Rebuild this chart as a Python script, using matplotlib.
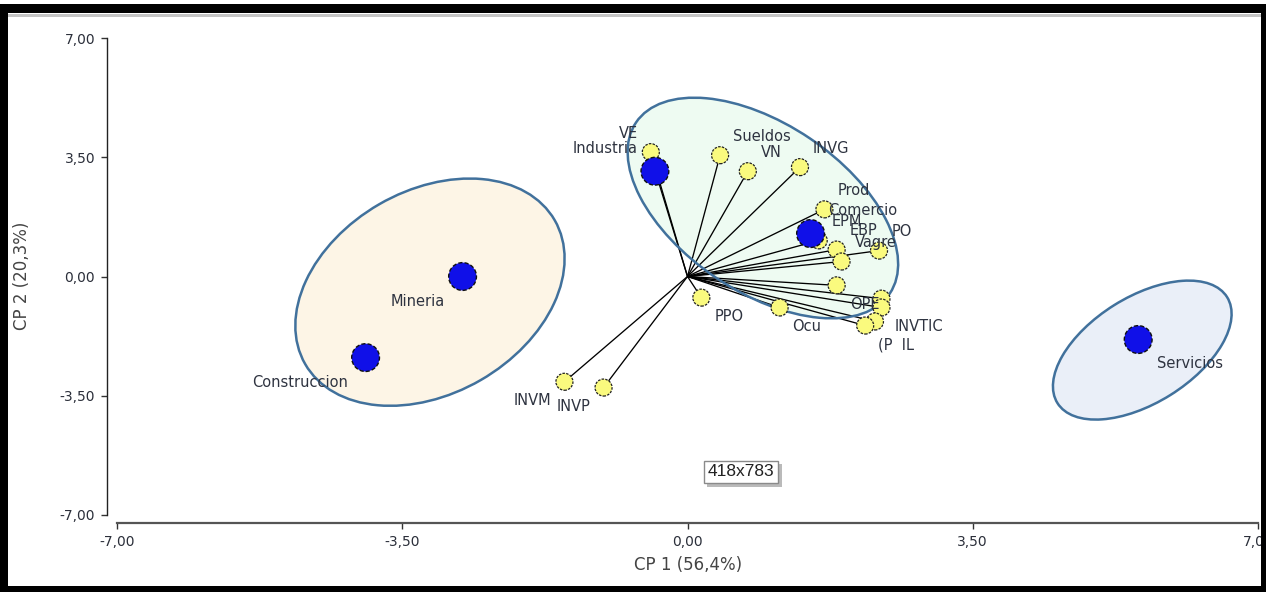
import matplotlib
matplotlib.use("Agg")
import matplotlib.pyplot as plt
from matplotlib.patches import Ellipse, Rectangle
from matplotlib.transforms import ScaledTranslation
import matplotlib.patheffects as pe

plt.rcParams["font.family"] = ["DejaVu Sans"]

# ---- biplot data (CP 1 / CP 2 scores) ----
var_names = ["VE", "", "Sueldos", "VN", "INVG", "Prod", "EPM", "EBP", "PO", "Vagre",
             "OPE", "", "INVTIC", "", "(P  IL", "PPO", "Ocu", "INVM", "INVP"]
var_x = [-0.45, -0.38, 0.40, 0.74, 1.38, 1.68, 1.61, 1.83, 2.35, 1.89,
         1.83, 2.38, 2.38, 2.30, 2.18, 0.17, 1.13, -1.51, -1.03]
var_y = [3.65, 2.97, 3.56, 3.09, 3.21, 1.97, 1.06, 0.79, 0.76, 0.44,
         -0.26, -0.65, -0.91, -1.32, -1.44, -0.62, -0.91, -3.09, -3.26]
var_side = ["ul", "ur", "ur", "ur", "ur", "ur", "ur", "ur", "ur", "ur",
            "lr", "lr", "lr", "lr", "lr", "lr", "lr", "ll", "ll"]

sector_names = ["Industria", "Comercio", "Mineria", "Construccion", "Servicios"]
sector_x = [-0.40, 1.51, -2.76, -3.95, 5.53]
sector_y = [3.09, 1.26, 0.00, -2.38, -1.85]
sector_side = ["ul", "ur", "ll", "ll", "lr"]

# group ellipses: centre (data), full width / height (inches), angle, fill
ell_cx = [0.925, -3.16, 5.58]
ell_cy = [2.01, -0.46, -2.16]
ell_w = [3.06, 2.88, 2.00]
ell_h = [1.68, 2.03, 1.06]
ell_ang = [-34, 30, 32]
ell_fill = ["#EEFBF2", "#FDF5E6", "#EAEFF8"]

ticks = [-7, -3.5, 0, 3.5, 7]
tick_labels = ["-7,00", "-3,50", "0,00", "3,50", "7,00"]
xlabel = "CP 1 (56,4%)"
ylabel = "CP 2 (20,3%)"

W, H = 1266, 592
fig = plt.figure(figsize=(W / 100, H / 100), dpi=100)
fig.patch.set_facecolor("white")
ax = fig.add_axes([117 / W, 1 - 515 / H, (1258 - 117) / W, (515 - 38) / H])
ax.set_facecolor("none")
ax.set_xlim(-7, 7)
ax.set_ylim(-7, 7)

edge_col = "#41719C"
for cx, cy, w, h, a, fc in zip(ell_cx, ell_cy, ell_w, ell_h, ell_ang, ell_fill):
    tr = fig.dpi_scale_trans + ScaledTranslation(cx, cy, ax.transData)
    ax.add_patch(Ellipse((0, 0), w, h, angle=a, transform=tr,
                         facecolor=fc, edgecolor="none", zorder=0.5))
    ax.add_patch(Ellipse((0, 0), w, h, angle=a, transform=tr,
                         facecolor="none", edgecolor=edge_col, lw=1.8, zorder=2.5))

# loading vectors from the origin
for x, y in zip(var_x, var_y):
    ax.plot([0, x], [0, y], color="black", lw=0.95, zorder=2, solid_capstyle="butt")

ax.scatter(var_x, var_y, s=150, c="#FAFA7E", edgecolors="#222222",
           linewidths=0.9, linestyles=(0, (2, 1)), zorder=3)
ax.scatter(sector_x, sector_y, s=400, c="#1010E8", edgecolors="#111111",
           linewidths=1.0, linestyles=(0, (3, 1.5)), zorder=4)

label_col = "#2E3340"
off_var = {"ur": (13, 19, "left"), "ul": (-13, 19, "right"),
           "lr": (13, -19, "left"), "ll": (-13, -19, "right")}
for name, x, y, s in zip(var_names, var_x, var_y, var_side):
    if not name:
        continue
    dx, dy, ha = off_var[s]
    ax.annotate(name, (x, y), xytext=(dx, dy), textcoords="offset pixels",
                ha=ha, va="center", fontsize=10.5, color=label_col, zorder=6)

off_sec = {"ur": (18, 23, "left"), "ul": (-17, 23, "right"),
           "lr": (19, -24, "left"), "ll": (-18, -25, "right")}
for name, x, y, s in zip(sector_names, sector_x, sector_y, sector_side):
    dx, dy, ha = off_sec[s]
    ax.annotate(name, (x, y), xytext=(dx, dy), textcoords="offset pixels",
                ha=ha, va="center", fontsize=10.5, color=label_col, zorder=6)

# axes styling: detached left / bottom axis lines
for side in ("top", "right"):
    ax.spines[side].set_visible(False)
ax.spines["left"].set_position(("outward", 7.2))
ax.spines["bottom"].set_position(("outward", 5.8))
ax.spines["left"].set_color("#222222")
ax.spines["bottom"].set_color("#555555")
ax.spines["left"].set_linewidth(1.0)
ax.spines["bottom"].set_linewidth(1.6)
ax.set_xticks(ticks)
ax.set_xticklabels(tick_labels)
ax.set_yticks(ticks)
ax.set_yticklabels(tick_labels)
ax.tick_params(axis="both", direction="out", length=4.5, width=1.0,
               colors="#333333", labelsize=10, labelcolor="#2B2F3A")
ax.tick_params(axis="x", pad=4)
ax.tick_params(axis="y", pad=4)

fig.text(688 / W, 1 - 565 / H, xlabel, ha="center", va="center",
         fontsize=12, color="#444444")
fig.text(22 / W, 1 - 276 / H, ylabel, ha="center", va="center",
         rotation=90, fontsize=12, color="#444444")

# size tooltip
tip = fig.text(741 / W, 1 - 472 / H, "418x783", ha="center", va="center",
               fontsize=12.5, color="#222222", family=["Liberation Sans"],
               bbox=dict(boxstyle="square,pad=0.22", fc="white", ec="#8A8A8A", lw=1))
tip.get_bbox_patch().set_path_effects(
    [pe.SimplePatchShadow(offset=(2.5, -2.5), shadow_rgbFace="#777777", alpha=0.5),
     pe.Normal()])


def frame_rect(x0, y0, x1, y1, color):
    fig.add_artist(Rectangle((x0 / W, 1 - y1 / H), (x1 - x0) / W, (y1 - y0) / H,
                             transform=fig.transFigure, facecolor=color,
                             edgecolor="none", zorder=20))


# window frame
frame_rect(0, 4, W, 13, "black")
frame_rect(8, 14, 1261, 17, "#C4C4C4")
frame_rect(0, 4, 8, H, "black")
frame_rect(1261, 4, W, H, "black")
frame_rect(0, 586, W, H, "black")

fig.savefig("out.png", dpi=100)
